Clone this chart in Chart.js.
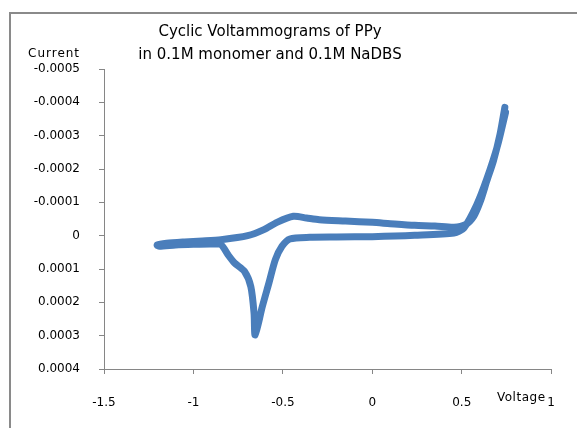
<!DOCTYPE html>
<html>
<head>
<meta charset="utf-8">
<script src="https://cdn.jsdelivr.net/npm/chart.js@4.4.0/dist/chart.umd.min.js"></script>
<style>
  html, body { margin:0; padding:0; background:#fff; width:577px; height:428px; overflow:hidden; }
  #frame { position:absolute; left:9px; top:12px; width:640px; height:480px; border:2px solid #8a8a8a; box-sizing:border-box; }
  #wrap { position:absolute; left:0; top:0; width:577px; height:428px; }
  .lbl { position:absolute; font-family:"DejaVu Sans", sans-serif; color:#000; white-space:nowrap; }
  #title { left:70px; width:400px; top:20px; text-align:center; font-size:15px; line-height:23px; }
  #ytitle { left:28px; top:46px; font-size:12px; letter-spacing:1px; }
  #xtitle { left:497px; top:390px; font-size:12px; letter-spacing:0.5px; }
</style>
</head>
<body>
<div id="frame"></div>
<div id="wrap"><canvas id="c" width="577" height="428"></canvas></div>
<div class="lbl" id="title">Cyclic Voltammograms of PPy<br>in 0.1M monomer and 0.1M NaDBS</div>
<div class="lbl" id="ytitle">Current</div>
<div class="lbl" id="xtitle">Voltage</div>
<script>
// Voltage (V) along the scan loop
const voltage = [
  0.741, 0.714, 0.677, 0.640, 0.604, 0.567, 0.521,
  0.457, 0.35, 0.237, 0.1, 0.0, -0.15, -0.296, -0.368, -0.441, -0.533, -0.606, -0.697, -0.846, -0.95, -1.05, -1.15, -1.203,
  -1.19, -1.1, -1.0, -0.9, -0.846, -0.807, -0.770, -0.715, -0.679, -0.661, -0.655, -0.615, -0.578, -0.542, -0.505, -0.461,
  -0.35, -0.2, 0.0, 0.237, 0.457, 0.512, 0.584, 0.640, 0.700, 0.745
];
// Current (A) along the scan loop
const current = [
  -0.000385, -0.000304, -0.000224, -0.000164, -0.000103, -0.000058, -0.000033,
  -0.000025, -0.000029, -0.000031, -0.000036, -0.000040, -0.000044, -0.000048, -0.000053, -0.000058, -0.000040, -0.000018, 0.0, 0.000012, 0.000016, 0.000019, 0.000023, 0.000028,
  0.000032, 0.000028, 0.000026, 0.000025, 0.000027, 0.000057, 0.000082, 0.000107, 0.000153, 0.000233, 0.000298, 0.000213, 0.000142, 0.000072, 0.000032, 0.000010,
  0.000005, 0.000004, 0.000003, -0.000001, -0.000008, -0.000023, -0.000093, -0.000170, -0.000270, -0.000370
];
const xTicks = [-1.5, -1, -0.5, 0, 0.5, 1];
const yTicks = [-0.0005, -0.0004, -0.0003, -0.0002, -0.0001, 0, 0.0001, 0.0002, 0.0003, 0.0004];

const pts = voltage.map((v, i) => ({ x: v, y: current[i] }));
const axisGray = '#868686';

new Chart(document.getElementById('c'), {
  type: 'scatter',
  data: {
    datasets: [{
      data: pts,
      showLine: true,
      borderColor: '#4a7ebb',
      borderWidth: 7,
      pointRadius: 0,
      tension: 0.25,
      borderCapStyle: 'round',
      borderJoinStyle: 'round',
      fill: false
    }]
  },
  options: {
    responsive: false,
    animation: false,
    events: [],
    layout: { padding: { left: 0, right: 18, top: 69, bottom: 0 } },
    plugins: { legend: { display: false }, title: { display: false }, tooltip: { enabled: false } },
    scales: {
      x: {
        type: 'linear',
        min: xTicks[0], max: xTicks[xTicks.length - 1],
        afterBuildTicks: s => { s.ticks = xTicks.map(v => ({ value: v })); },
        afterFit: s => { s.height = 59; },
        border: { display: true, color: axisGray, width: 1 },
        grid: { display: true, drawOnChartArea: false, drawTicks: true, tickLength: 5, color: axisGray },
        ticks: {
          padding: 22, color: '#000',
          font: { family: 'DejaVu Sans', size: 12 },
          callback: v => String(Math.round(v * 10) / 10)
        }
      },
      y: {
        type: 'linear',
        reverse: true,
        min: yTicks[0], max: yTicks[yTicks.length - 1],
        afterBuildTicks: s => { s.ticks = yTicks.map(v => ({ value: v })); },
        afterFit: s => { s.width = 104; },
        border: { display: true, color: axisGray, width: 1 },
        grid: { display: true, drawOnChartArea: false, drawTicks: true, tickLength: 5, color: axisGray },
        ticks: {
          padding: 19, color: '#000',
          font: { family: 'DejaVu Sans', size: 12 },
          callback: v => { const r = Math.round(v * 1e4) / 1e4; return r === 0 ? '0' : r.toFixed(4); }
        }
      }
    }
  }
});
</script>
</body>
</html>
